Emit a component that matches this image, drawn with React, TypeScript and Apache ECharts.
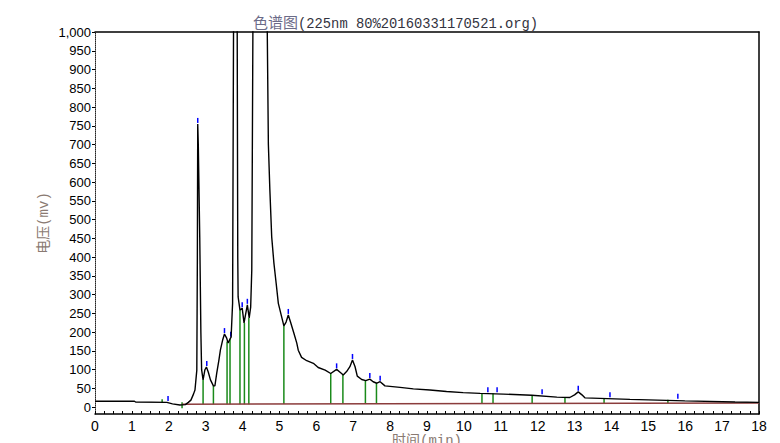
import React, { useEffect, useRef } from "react";
import * as echarts from "echarts";

// Chromatogram trace (time in min, voltage in mV)
const timeMin = [
  0, 1.07, 1.1, 1.95, 2.1, 2.3, 2.45, 2.53, 2.6, 2.67, 2.71, 2.76, 2.775, 2.785, 2.8, 2.84, 2.87, 2.89,
  2.93, 2.98, 3.02, 3.07, 3.13, 3.21, 3.25, 3.3, 3.36, 3.4, 3.46, 3.51, 3.57, 3.61, 3.66, 3.69, 3.73,
  3.755, 3.8, 3.855, 3.87, 3.88, 3.93, 3.99, 4.04, 4.07, 4.13, 4.18, 4.22, 4.25, 4.28, 4.45, 4.67, 4.7,
  4.74, 4.79, 4.85, 4.91, 4.97, 5.06, 5.12, 5.18, 5.24, 5.3, 5.39, 5.47, 5.51, 5.6, 5.74, 5.92, 6.05,
  6.24, 6.39, 6.55, 6.66, 6.73, 6.82, 6.91, 6.98, 7.05, 7.11, 7.23, 7.34, 7.45, 7.54, 7.64, 7.73, 7.86,
  8.27, 8.63, 9.08, 9.53, 9.98, 10.44, 11.07, 11.84, 12.52, 12.87, 13.0, 13.1, 13.2, 13.28, 14.5, 15.99,
  17.35, 18,
];
const voltage = [
  16, 16, 14, 13, 9, 6, 7, 13, 19, 35, 46, 99, 400, 755, 700, 450, 200, 100,
  73, 100, 107, 94, 73, 57, 57, 91, 126, 153, 179, 195, 184, 171, 182, 187, 277,
  1000, 1600, 1000, 400, 294, 259, 264, 225, 241, 273, 238, 267, 366, 1000, 2500, 1000, 700,
  580, 454, 384, 331, 277, 241, 217, 227, 246, 227, 198, 171, 152, 133, 124, 117, 106,
  99, 90, 101, 92, 86, 95, 108, 126, 108, 83, 74, 71, 75, 68, 64, 68, 57,
  53, 49, 46, 42, 39, 37, 35, 32, 27, 26, 33, 41, 33, 25, 21, 17,
  14, 13,
];

// Peak boundary markers (green)
const boundTime = [1.82, 2.36, 2.93, 3.21, 3.58, 3.66, 3.93, 4.05, 4.17, 5.12, 6.39, 6.72, 7.33, 7.63, 10.49, 10.79, 11.85, 12.74, 13.8, 15.53];
const boundLow = [12, -3, 8, 8, 8, 8, 8, 8, 8, 8.5, 9, 9, 9, 9, 10, 10, 10, 10.5, 11, 11];
const boundHigh = [21, 13, 73, 57, 175, 182, 259, 225, 238, 217, 90, 86, 71, 64, 37, 37, 32, 27, 24, 20];

// Peak apex markers (blue)
const apexTime = [1.98, 2.785, 3.03, 3.51, 3.68, 3.99, 4.13, 5.24, 6.55, 6.98, 7.45, 7.73, 10.65, 10.9, 12.12, 13.1, 13.96, 15.8];
const apexVolt = [14, 755, 107, 195, 185, 264, 273, 246, 101, 126, 75, 68, 37, 37, 32, 41, 24, 20];

// Integration baseline (brown)
const baselineTime = [2.36, 18];
const baselineVolt = [8, 11];

const yTicks = [0, 50, 100, 150, 200, 250, 300, 350, 400, 450, 500, 550, 600, 650, 700, 750, 800, 850, 900, 950, 1000];

export default function App() {
  const ref = useRef<HTMLDivElement>(null);
  useEffect(() => {
    const chart = echarts.init(ref.current!, null, { renderer: "svg" });
    const cjkFont = "'Liberation Mono', 'Noto Sans CJK SC', monospace";
    const fmt = (v: number) => String(v).replace(/\B(?=(\d{3})+(?!\d))/g, ",");
    chart.setOption({
      animation: false,
      backgroundColor: "#ffffff",
      title: {
        text: "{a|色谱图}{b|(225nm 80%20160331170521.org)}",
        left: 248,
        top: 12,
        textStyle: {
          fontWeight: "normal",
          rich: {
            a: { fontFamily: cjkFont, fontSize: 15, fontWeight: "normal", color: "#6b6b88" },
            b: { fontFamily: cjkFont, fontSize: 13.8, fontWeight: "normal", color: "#333340" },
          },
        },
      },
      grid: { left: 95, right: 21, top: 32, bottom: 29, outerBoundsMode: "none", containLabel: false },
      xAxis: [
        {
          type: "value",
          min: 0,
          max: 18,
          interval: 1,
          position: "bottom",
          name: "时间(min)",
          nameLocation: "middle",
          nameGap: 20,
          nameMoveOverlap: false,
          nameTextStyle: { fontFamily: cjkFont, fontSize: 14, color: "#8a7a72" },
          axisLine: { show: true, onZero: false, lineStyle: { color: "#000", width: 1.5 } },
          axisTick: { show: true, inside: true, length: 3, lineStyle: { color: "#000" } },
          minorTick: { show: true, splitNumber: 4, length: 3, lineStyle: { color: "#000" } },
          axisLabel: { fontSize: 14, fontFamily: "'Liberation Sans', Arial", color: "#000", margin: 5 },
          splitLine: { show: false },
        },
        {
          type: "value",
          min: 0,
          max: 18,
          position: "top",
          axisLine: { show: true, onZero: false, lineStyle: { color: "#000", width: 1.5 } },
          axisTick: { show: false },
          axisLabel: { show: false },
          splitLine: { show: false },
        },
      ],
      yAxis: [
        {
          type: "value",
          min: -18,
          max: 1000,
          position: "left",
          name: "电压(mv)",
          nameLocation: "middle",
          nameGap: 44,
          nameMoveOverlap: false,
          nameRotate: 90,
          nameTextStyle: { fontFamily: cjkFont, fontSize: 14, color: "#8a7a72" },
          axisLine: { show: true, onZero: false, lineStyle: { color: "#222", width: 1, type: "dotted" } },
          axisTick: { show: true, customValues: yTicks, length: 3, lineStyle: { color: "#000" } },
          axisLabel: {
            customValues: yTicks,
            formatter: fmt,
            fontSize: 13,
            fontFamily: "'Liberation Sans', Arial",
            color: "#000",
            margin: 4,
          },
          splitLine: { show: false },
        },
        {
          type: "value",
          min: -18,
          max: 1000,
          position: "right",
          axisLine: { show: true, onZero: false, lineStyle: { color: "#000", width: 1.5 } },
          axisTick: { show: false },
          axisLabel: { show: false },
          splitLine: { show: false },
        },
      ],
      series: [
        {
          type: "line",
          data: baselineTime.map((t, i) => [t, baselineVolt[i]]),
          symbol: "none",
          lineStyle: { color: "#8b3c3c", width: 1.5 },
          silent: true,
        },
        {
          type: "custom",
          data: boundTime.map((t, i) => [t, boundLow[i], boundHigh[i]]),
          encode: { x: 0, y: [1, 2] },
          renderItem: (params: any, api: any) => {
            const a = api.coord([api.value(0), api.value(1)]);
            const b = api.coord([api.value(0), api.value(2)]);
            return {
              type: "line",
              shape: { x1: a[0], y1: a[1], x2: b[0], y2: b[1] },
              style: { stroke: "#1a8a1a", lineWidth: 1.5 },
            };
          },
          silent: true,
        },
        {
          type: "line",
          data: timeMin.map((t, i) => [t, voltage[i]]),
          symbol: "none",
          clip: true,
          lineStyle: { color: "#000", width: 1.4 },
          silent: true,
        },
        {
          type: "custom",
          data: apexTime.map((t, i) => [t, apexVolt[i]]),
          encode: { x: 0, y: 1 },
          clip: true,
          renderItem: (params: any, api: any) => {
            const p = api.coord([api.value(0), api.value(1)]);
            return {
              type: "line",
              shape: { x1: p[0], y1: p[1] - 1, x2: p[0], y2: p[1] - 6 },
              style: { stroke: "#0000ff", lineWidth: 1.5 },
            };
          },
          silent: true,
        },
      ],
    });
    return () => chart.dispose();
  }, []);
  return (
    <div
      ref={ref}
      style={{ position: "fixed", left: 0, top: 0, width: 780, height: 443, background: "#fff" }}
    />
  );
}
